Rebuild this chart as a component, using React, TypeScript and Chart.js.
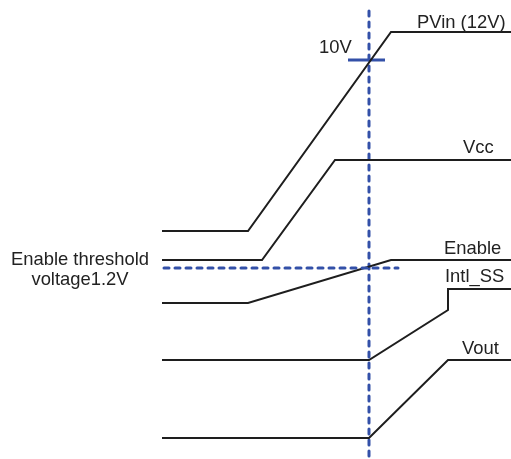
import React, { useEffect, useRef } from "react";
import { Chart, registerables } from "chart.js";

Chart.register(...registerables);

// Diagram units: x = time axis (0..511), y = trace level axis (0..459, top-down)
const X_RANGE = [0, 511];
const Y_RANGE = [0, 459];

// Signal waveforms (time breakpoints and levels)
const pvinT = [162, 248, 391, 511];
const pvinY = [231, 231, 32, 32];

const vccT = [162, 262, 335, 511];
const vccY = [260, 260, 160, 160];

const enableT = [162, 248, 391, 511];
const enableY = [303, 303, 260, 260];

const ssT = [162, 369, 448, 448, 511];
const ssY = [360, 360, 310, 289, 289];

const voutT = [162, 369, 448, 511];
const voutY = [438, 438, 360, 360];

// Markers
const triggerT = [369, 369];
const triggerY = [11, 459];
const thresholdT = [164, 398];
const thresholdY = [268, 268];
const tick10VT = [348, 385];
const tick10VY = [60, 60];

// Labels: text, x, y (baseline), align
const labelTexts = ["PVin (12V)", "10V", "Vcc", "Enable", "Intl_SS", "Vout", "Enable threshold", "voltage1.2V"];
const labelX = [417, 319, 463, 444, 445, 462, 80, 80];
const labelY = [28, 53, 153, 254, 282, 354, 265, 285];
const labelAlign = ["left", "left", "left", "left", "left", "left", "center", "center"];

const BLACK = "#1e1e1e";
const BLUE = "#3350a8";

const pts = (t: number[], y: number[]) => t.map((v, i) => ({ x: v, y: y[i] }));

export default function App() {
  const ref = useRef<HTMLCanvasElement | null>(null);
  useEffect(() => {
    document.body.style.margin = "0";
    const canvas = ref.current;
    if (!canvas) return;
    const labelPlugin = {
      id: "labels",
      afterDatasetsDraw(chart: any) {
        const ctx = chart.ctx;
        const xs = chart.scales.x;
        const ys = chart.scales.y;
        ctx.save();
        ctx.fillStyle = "#222";
        ctx.font = '18.4px "Liberation Sans", Arial, sans-serif';
        ctx.textBaseline = "alphabetic";
        labelTexts.forEach((txt, i) => {
          ctx.textAlign = labelAlign[i];
          ctx.fillText(txt, xs.getPixelForValue(labelX[i]), ys.getPixelForValue(labelY[i]));
        });
        ctx.restore();
      },
    };
    const line = (t: number[], y: number[], color: string, width: number, dash: number[] = [], cap = "butt") => ({
      data: pts(t, y),
      borderColor: color,
      borderWidth: width,
      borderDash: dash,
      pointRadius: 0,
      tension: 0,
      fill: false,
      showLine: true,
      borderCapStyle: cap,
      borderJoinStyle: "miter",
    });
    const chart = new Chart(canvas, {
      type: "line",
      data: {
        datasets: [
          line(thresholdT, thresholdY, BLUE, 3, [5, 6], "round"),
          line(pvinT, pvinY, BLACK, 2),
          line(vccT, vccY, BLACK, 2),
          line(enableT, enableY, BLACK, 2),
          line(ssT, ssY, BLACK, 2),
          line(voutT, voutY, BLACK, 2),
          line(triggerT, triggerY, BLUE, 3, [5, 6], "round"),
          line(tick10VT, tick10VY, BLUE, 3),
        ] as any,
      },
      options: {
        animation: false,
        responsive: false,
        maintainAspectRatio: false,
        layout: { padding: 0 },
        plugins: { legend: { display: false }, tooltip: { enabled: false } },
        scales: {
          x: { type: "linear", min: X_RANGE[0], max: X_RANGE[1], display: false },
          y: { type: "linear", min: Y_RANGE[0], max: Y_RANGE[1], reverse: true, display: false },
        },
      } as any,
      plugins: [labelPlugin],
    });
    return () => chart.destroy();
  }, []);
  return (
    <div style={{ width: 511, height: 459, background: "#fff" }}>
      <canvas ref={ref} width={511} height={459} style={{ display: "block" }} />
    </div>
  );
}
